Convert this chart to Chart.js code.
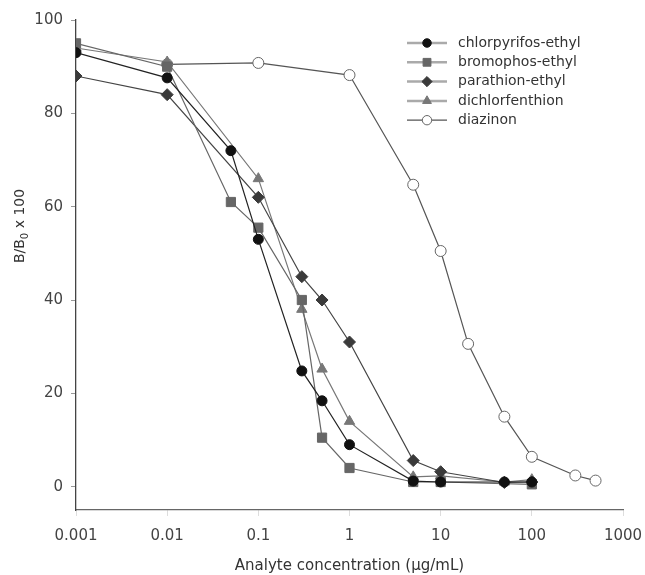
<!DOCTYPE html>
<html>
<head>
<meta charset="utf-8">
<script src="https://cdn.jsdelivr.net/npm/chart.js@4.4.1/dist/chart.umd.min.js"></script>
<style>
  html, body { margin: 0; padding: 0; background: #fff; }
</style>
</head>
<body>
<canvas id="chart1" width="645" height="575"></canvas>
<script>
const FONT = '"DejaVu Sans", Arial, sans-serif';

// concentrations (µg/mL) and B/B0 x 100 for each compound
const chlorConc = [0.001, 0.01, 0.05, 0.1, 0.3, 0.5, 1, 5, 10, 50, 100];
const chlorVals = [93, 87.6, 72, 53, 24.8, 18.4, 9, 1.2, 1, 1, 1];

const bromoConc = [0.001, 0.01, 0.05, 0.1, 0.3, 0.5, 1, 5, 10, 100];
const bromoVals = [95, 90, 61, 55.5, 40, 10.5, 4, 1, 1, 0.5];

const paraConc = [0.001, 0.01, 0.1, 0.3, 0.5, 1, 5, 10, 50, 100];
const paraVals = [88, 84, 62, 45, 40, 31, 5.6, 3.2, 0.9, 1];

const dichConc = [0.001, 0.01, 0.1, 0.3, 0.5, 1, 5, 10, 50, 100];
const dichVals = [94, 91, 66, 38, 25.2, 14, 2.1, 2.3, 1, 1.5];

const diazConc = [0.01, 0.1, 1, 5, 10, 20, 50, 100, 300, 500];
const diazVals = [90.5, 90.8, 88.2, 64.7, 50.5, 30.6, 15, 6.4, 2.4, 1.3];

const xTickValues = [0.001, 0.01, 0.1, 1, 10, 100, 1000];
const xTickLabels = ['0.001', '0.01', '0.1', '1', '10', '100', '1000'];
const yTickValues = [0, 20, 40, 60, 80, 100];

const toPoints = (xs, ys) => xs.map((x, i) => ({ x: x, y: ys[i] }));

const series = (label, xs, ys, style, fill, border, line, radius) => ({
  label: label,
  data: toPoints(xs, ys),
  showLine: true,
  borderColor: line,
  borderWidth: 1.2,
  pointStyle: style,
  pointRadius: radius,
  pointBackgroundColor: fill,
  pointBorderColor: border,
  pointBorderWidth: 1,
  tension: 0
});

// legend drawn at the upper right, inside the plot
const sideLegend = {
  id: 'sideLegend',
  afterDraw(chart) {
    const ctx = chart.ctx;
    chart.data.datasets.forEach((ds, i) => {
      const y = 43 + i * 19.3;
      ctx.save();
      ctx.strokeStyle = i < 4 ? '#aaa' : ds.borderColor;
      ctx.lineWidth = i < 4 ? 2.5 : 1.2;
      ctx.beginPath();
      ctx.moveTo(407, y);
      ctx.lineTo(447, y);
      ctx.stroke();
      ctx.fillStyle = ds.pointBackgroundColor;
      ctx.strokeStyle = ds.pointBorderColor;
      ctx.lineWidth = 1;
      Chart.helpers.drawPoint(ctx, { pointStyle: ds.pointStyle, radius: ds.pointRadius * 0.85, borderWidth: 1, rotation: 0 }, 427, y);
      ctx.fillStyle = '#333';
      ctx.font = '14px ' + FONT;
      ctx.textBaseline = 'middle';
      ctx.fillText(ds.label, 458, y);
      ctx.restore();
    });
  }
};

// y title with subscript
const yTitle = {
  id: 'yTitle',
  afterDraw(chart) {
    const ctx = chart.ctx;
    ctx.save();
    ctx.translate(20, 226);
    ctx.rotate(-Math.PI / 2);
    ctx.fillStyle = '#333';
    ctx.textBaseline = 'middle';
    const big = '14px ' + FONT;
    const small = '10px ' + FONT;
    ctx.font = big;
    const w1 = ctx.measureText('B/B').width;
    const w3 = ctx.measureText(' x 100').width;
    ctx.font = small;
    const w2 = ctx.measureText('0').width;
    let x = -(w1 + w2 + w3) / 2;
    ctx.font = big;
    ctx.fillText('B/B', x, 0);
    x += w1;
    ctx.font = small;
    ctx.fillText('0', x, 5);
    x += w2;
    ctx.font = big;
    ctx.fillText(' x 100', x, 0);
    ctx.restore();
  }
};

const chart1 = new Chart(document.querySelector('#chart1'), {
  type: 'scatter',
  data: {
    datasets: [
      series('chlorpyrifos-ethyl', chlorConc, chlorVals, 'circle', '#111', '#111', '#222', 5),
      series('bromophos-ethyl', bromoConc, bromoVals, 'rect', '#666', '#666', '#666', 6.5),
      series('parathion-ethyl', paraConc, paraVals, 'rectRot', '#3a3a3a', '#3a3a3a', '#444', 6),
      series('dichlorfenthion', dichConc, dichVals, 'triangle', '#777', '#777', '#777', 6),
      series('diazinon', diazConc, diazVals, 'circle', '#fff', '#666', '#555', 5.5)
    ]
  },
  options: {
    responsive: false,
    animation: false,
    layout: { padding: { top: 20, right: 22, left: 0, bottom: 0 } },
    plugins: {
      legend: { display: false },
      tooltip: { enabled: false }
    },
    scales: {
      x: {
        type: 'logarithmic',
        min: 0.001,
        max: 1000,
        afterBuildTicks: (s) => { s.ticks = xTickValues.map(v => ({ value: v })); },
        afterFit: (s) => { s.height = 65; s.paddingLeft = 0; s.paddingRight = 0; },
        ticks: {
          callback: (v, i) => xTickLabels[i],
          font: { family: FONT, size: 15 },
          color: '#444',
          maxRotation: 0,
          autoSkip: false,
          padding: 11
        },
        grid: { drawOnChartArea: false, tickLength: 6, color: '#ddd' },
        border: { color: '#666', width: 1.3 },
        title: {
          display: true,
          text: 'Analyte concentration (μg/mL)',
          font: { family: FONT, size: 15 },
          color: '#333',
          padding: { top: 0, bottom: 0 }
        }
      },
      y: {
        type: 'linear',
        min: -5,
        max: 100,
        afterBuildTicks: (s) => { s.ticks = yTickValues.map(v => ({ value: v })); },
        afterFit: (s) => { s.width = 76; s.paddingTop = 0; s.paddingBottom = 0; },
        ticks: {
          font: { family: FONT, size: 15 },
          color: '#444',
          padding: 8
        },
        grid: { drawOnChartArea: false, tickLength: 5, color: '#999' },
        border: { color: '#444', width: 1.3 }
      }
    }
  },
  plugins: [sideLegend, yTitle]
});
</script>
</body>
</html>
